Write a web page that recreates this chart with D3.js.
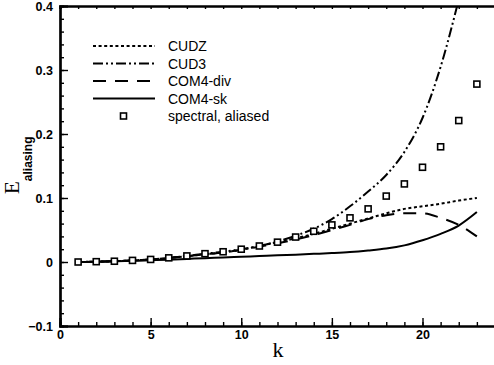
<!DOCTYPE html>
<html>
<head>
<meta charset="utf-8">
<script src="https://cdn.jsdelivr.net/npm/d3@7/dist/d3.min.js"></script>
<style>
  html, body { margin: 0; padding: 0; background: #fff; }
  svg { display: block; }
  .tick-label { font-family: "Liberation Sans", Arial, sans-serif; font-weight: bold; font-size: 12.5px; fill: #000; }
  .legend-label { font-family: "Liberation Sans", Arial, sans-serif; font-size: 14px; fill: #000; }
</style>
</head>
<body>
<svg id="chart" width="494" height="365"></svg>
<script>
// Wavenumber k and aliasing error for each scheme
const kValues = [1, 2, 3, 4, 5, 6, 7, 8, 9, 10, 11, 12, 13, 14, 15, 16, 17, 18, 19, 20, 21, 22, 23];
const cudz    = [0, 0.0005, 0.0012, 0.0025, 0.004, 0.0063, 0.009, 0.012, 0.015, 0.019, 0.025, 0.031, 0.037, 0.044, 0.052, 0.060, 0.068, 0.076, 0.083, 0.087, 0.091, 0.096, 0.100];
const cud3K   = [1, 2, 3, 4, 5, 6, 7, 8, 9, 10, 11, 12, 13, 14, 15, 16, 17, 18, 19, 20, 21, 22];
const cud3    = [0, 0.0005, 0.0012, 0.0025, 0.004, 0.0065, 0.0095, 0.013, 0.016, 0.020, 0.025, 0.032, 0.041, 0.052, 0.067, 0.087, 0.110, 0.136, 0.172, 0.225, 0.305, 0.41];
const com4div = [0, 0.0005, 0.0012, 0.0025, 0.004, 0.006, 0.009, 0.012, 0.015, 0.019, 0.024, 0.029, 0.035, 0.042, 0.050, 0.058, 0.067, 0.073, 0.076, 0.076, 0.069, 0.058, 0.040];
const com4sk  = [0, 0.0004, 0.001, 0.0018, 0.0027, 0.0037, 0.0048, 0.006, 0.007, 0.0082, 0.0093, 0.0105, 0.0115, 0.0127, 0.014, 0.0156, 0.018, 0.021, 0.026, 0.034, 0.044, 0.057, 0.078];
const spectral = [0, 0.0005, 0.0012, 0.0025, 0.004, 0.0065, 0.0095, 0.013, 0.016, 0.020, 0.025, 0.031, 0.039, 0.048, 0.058, 0.069, 0.083, 0.103, 0.122, 0.148, 0.180, 0.221, 0.278];

const xTickValues = [0, 5, 10, 15, 20];
const yTickValues = [-0.1, 0, 0.1, 0.2, 0.3, 0.4];
const legendNames = ["CUDZ", "CUD3", "COM4-div", "COM4-sk", "spectral, aliased"];

const svg = d3.select("#chart");
const plotLeft = 60, plotRight = 495, plotTop = 6, plotBottom = 326;

const x = d3.scaleLinear().domain([0, 24]).range([plotLeft, plotRight]);
const y = d3.scaleLinear().domain([-0.1, 0.4]).range([plotBottom, plotTop]);

svg.append("defs").append("clipPath").attr("id", "plot-clip")
  .append("rect").attr("x", plotLeft).attr("y", plotTop)
  .attr("width", plotRight - plotLeft).attr("height", plotBottom - plotTop);

const styles = {
  cudz:    { dash: "3,2.6", width: 2 },
  cud3:    { dash: "10,3,2,3,2,3", width: 2 },
  com4div: { dash: "13,9", width: 2 },
  com4sk:  { dash: null, width: 2 }
};

const line = d3.line()
  .x(d => x(d[0]))
  .y(d => y(d[1]))
  .curve(d3.curveMonotoneX);

const plot = svg.append("g").attr("clip-path", "url(#plot-clip)");

function drawSeries(ks, vals, st) {
  plot.append("path")
    .datum(ks.map((k, i) => [k, vals[i]]))
    .attr("d", line)
    .attr("fill", "none")
    .attr("stroke", "#000")
    .attr("stroke-width", st.width)
    .attr("stroke-dasharray", st.dash);
}

drawSeries(kValues, com4sk, styles.com4sk);
drawSeries(kValues, com4div, styles.com4div);
drawSeries(kValues, cudz, styles.cudz);
drawSeries(cud3K, cud3, styles.cud3);

// hollow square markers
const sq = 6;
plot.selectAll("rect.spec")
  .data(kValues.map((k, i) => [k, spectral[i]]))
  .enter().append("rect")
  .attr("class", "spec")
  .attr("x", d => x(d[0]) - sq / 2)
  .attr("y", d => y(d[1]) - sq / 2)
  .attr("width", sq).attr("height", sq)
  .attr("fill", "#fff").attr("stroke", "#000").attr("stroke-width", 1.6);

// axes: ticks point into the plot
const xAxis = d3.axisBottom(x).tickValues(xTickValues).tickSize(-8).tickFormat(d3.format("d")).tickPadding(4);
const xMinor = d3.axisBottom(x).tickValues(d3.range(1, 25)).tickSize(-4).tickFormat("");
const yAxis = d3.axisLeft(y).tickValues(yTickValues).tickSize(-8).tickFormat(d => d === 0 ? "0" : d3.format(".1f")(d)).tickPadding(7);
const yMinor = d3.axisLeft(y).tickValues(d3.range(-0.08, 0.4, 0.02)).tickSize(-4).tickFormat("");
const xTop = d3.axisTop(x).tickValues(d3.range(1, 25)).tickSize(-3).tickFormat("");

function styleAxis(g) {
  g.select(".domain").attr("stroke", "#000").attr("stroke-width", 2.2);
  g.selectAll(".tick line").attr("stroke", "#000").attr("stroke-width", 1.4);
  g.selectAll(".tick text").attr("class", "tick-label").attr("font-family", null).attr("font-size", null);
}

svg.append("g").attr("transform", `translate(0,${plotBottom})`).call(xMinor).call(styleAxis);
svg.append("g").attr("transform", `translate(0,${plotBottom})`).call(xAxis).call(styleAxis);
svg.append("g").attr("transform", `translate(${plotLeft},0)`).call(yMinor).call(styleAxis);
svg.append("g").attr("transform", `translate(${plotLeft},0)`).call(yAxis).call(styleAxis);
svg.append("g").attr("transform", `translate(0,${plotTop})`).call(xTop).call(styleAxis)
  .select(".domain").attr("stroke-width", 2.6);

// axis titles
svg.append("text")
  .attr("x", 278).attr("y", 357)
  .attr("text-anchor", "middle")
  .attr("font-family", "'Liberation Serif', 'Times New Roman', serif")
  .attr("font-size", 22)
  .text("k");

const yTitle = svg.append("text")
  .attr("transform", "translate(19,194) rotate(-90)")
  .attr("font-family", "'Liberation Serif', 'Times New Roman', serif")
  .attr("font-size", 21);
yTitle.append("tspan").text("E");
yTitle.append("tspan")
  .attr("dy", 13)
  .attr("font-family", "'Liberation Sans', Arial, sans-serif")
  .attr("font-weight", "bold")
  .attr("font-size", 12)
  .text("aliasing");

// legend
const legendY = [46, 63.5, 81, 98.5, 116];
const legendKeys = ["cudz", "cud3", "com4div", "com4sk"];
const legend = svg.append("g");
legendKeys.forEach((key, i) => {
  legend.append("line")
    .attr("x1", 93).attr("x2", 155)
    .attr("y1", legendY[i]).attr("y2", legendY[i])
    .attr("stroke", "#000")
    .attr("stroke-width", styles[key].width)
    .attr("stroke-dasharray", styles[key].dash);
});
legend.append("rect")
  .attr("x", 123.5 - sq / 2).attr("y", legendY[4] - sq / 2)
  .attr("width", sq).attr("height", sq)
  .attr("fill", "#fff").attr("stroke", "#000").attr("stroke-width", 1.6);
legendNames.forEach((name, i) => {
  legend.append("text")
    .attr("class", "legend-label")
    .attr("x", 168).attr("y", legendY[i])
    .attr("dy", "0.36em")
    .text(name);
});
</script>
</body>
</html>
